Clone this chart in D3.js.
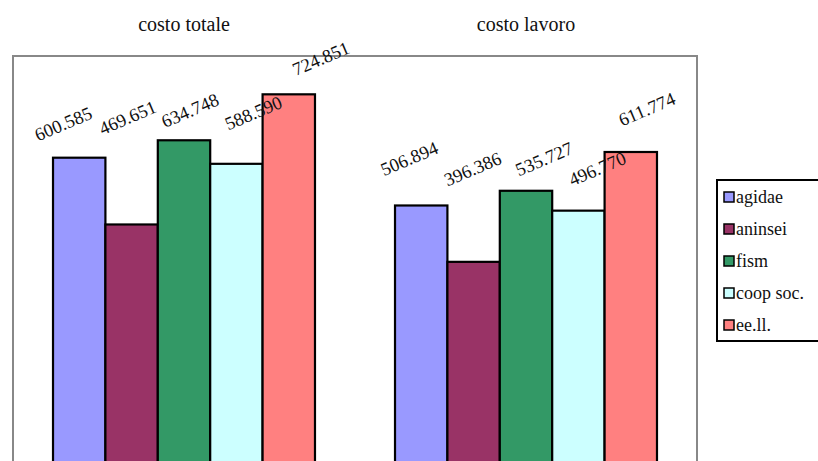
<!DOCTYPE html>
<html>
<head>
<meta charset="utf-8">
<script src="https://cdn.jsdelivr.net/npm/d3@7"></script>
<style>
    body { margin: 0; background: #fff; }
    svg text { font-family: "Liberation Serif", "DejaVu Serif", serif; }
</style>
</head>
<body>
<div id="chart"></div>
<script>
// groups along the x axis
const categories = ["costo totale", "costo lavoro"];
const seriesNames = ["agidae", "aninsei", "fism", "coop soc.", "ee.ll."];
const seriesColors = ["#9999ff", "#993366", "#339966", "#ccffff", "#ff8080"];

// one array per series, values per category
const agidae = [600.585, 506.894];
const aninsei = [469.651, 396.386];
const fism = [634.748, 535.727];
const coopSoc = [588.590, 496.770];
const eell = [724.851, 611.774];

const seriesValues = [agidae, aninsei, fism, coopSoc, eell];
const labelText = [
    ["600.585", "506.894"],
    ["469.651", "396.386"],
    ["634.748", "535.727"],
    ["588.590", "496.770"],
    ["724.851", "611.774"]
];

const yDomain = [0, 800];

// layout
const width = 818, height = 461;
const plot = {left: 13, right: 697, top: 56, bottom: 464};
const serif = "'Liberation Serif', 'DejaVu Serif', serif";

// where excel dropped each rotated label, relative to its bar top (px)
const labelNudge = [
    [[-16, -34], [-12, -47]],
    [[-4, -107], [-1, -93]],
    [[6, -30], [18, -32]],
    [[17, -51], [19, -42]],
    [[32, -36], [16, -43]]
];

const svg = d3.select("#chart").append("svg")
    .attr("width", width)
    .attr("height", height);

const x0 = d3.scaleBand()
    .domain(categories)
    .range([plot.left, plot.right])
    .paddingInner(0.234)
    .paddingOuter(0.117);

const x1 = d3.scaleBand()
    .domain(d3.range(seriesNames.length))
    .range([0, x0.bandwidth()]);

const y = d3.scaleLinear()
    .domain(yDomain)
    .range([plot.bottom, plot.top]);

const rows = [];
categories.forEach((c, ci) => {
    seriesValues.forEach((vals, si) => {
        rows.push({cat: c, ci: ci, si: si, value: vals[ci], label: labelText[si][ci]});
    });
});

// plot area frame
svg.append("rect")
    .attr("x", plot.left)
    .attr("y", plot.top)
    .attr("width", plot.right - plot.left)
    .attr("height", 480 - plot.top)
    .attr("fill", "none")
    .attr("stroke", "#888")
    .attr("stroke-width", 2);

// category titles on top
svg.append("g")
    .selectAll("text")
    .data(categories)
    .join("text")
    .attr("x", d => x0(d) + x0.bandwidth() / 2)
    .attr("y", 31)
    .attr("text-anchor", "middle")
    .attr("font-family", serif)
    .attr("font-size", 20)
    .attr("fill", "#111")
    .text(d => d);

// bars
svg.append("g")
    .selectAll("rect")
    .data(rows)
    .join("rect")
    .attr("x", d => x0(d.cat) + x1(d.si))
    .attr("y", d => y(d.value))
    .attr("width", x1.bandwidth())
    .attr("height", d => y(0) - y(d.value))
    .attr("fill", d => seriesColors[d.si])
    .attr("stroke", "#000")
    .attr("stroke-width", 2.2);

// value labels
svg.append("g")
    .selectAll("text")
    .data(rows)
    .join("text")
    .attr("transform", d => {
        const n = labelNudge[d.si][d.ci];
        const cx = x0(d.cat) + x1(d.si) + x1.bandwidth() / 2 + n[0];
        const cy = y(d.value) + n[1];
        return "translate(" + cx + "," + cy + ") rotate(-23)";
    })
    .attr("text-anchor", "middle")
    .attr("dy", "0.35em")
    .attr("font-family", serif)
    .attr("font-size", 18.5)
    .attr("fill", "#111")
    .text(d => d.label);

// legend
const legend = svg.append("g").attr("transform", "translate(717,180)");

legend.append("rect")
    .attr("width", 130)
    .attr("height", 161)
    .attr("fill", "#fff")
    .attr("stroke", "#000")
    .attr("stroke-width", 2);

const item = legend.selectAll("g.item")
    .data(seriesNames)
    .join("g")
    .attr("class", "item")
    .attr("transform", (d, i) => "translate(7," + (17 + i * 32) + ")");

item.append("rect")
    .attr("x", 0)
    .attr("y", -5)
    .attr("width", 10)
    .attr("height", 10)
    .attr("fill", (d, i) => seriesColors[i])
    .attr("stroke", "#000")
    .attr("stroke-width", 1.5);

item.append("text")
    .attr("x", 12)
    .attr("dy", "0.35em")
    .attr("font-family", serif)
    .attr("font-size", 18)
    .attr("fill", "#111")
    .text(d => d);
</script>
</body>
</html>
